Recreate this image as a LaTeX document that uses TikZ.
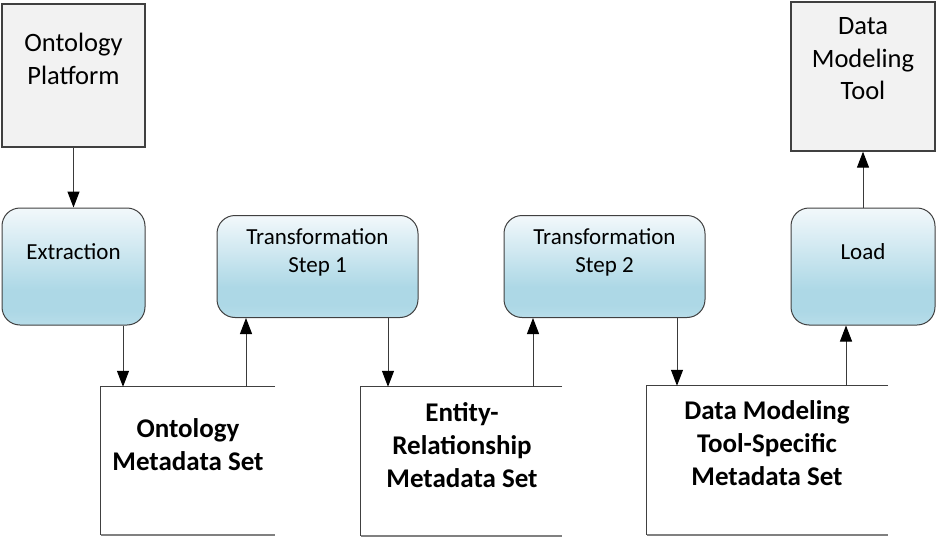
\documentclass[tikz,border=0pt]{standalone}
\usepackage{fontspec}
\setmainfont{Carlito}
\usetikzlibrary{arrows.meta}
\definecolor{boxgray}{HTML}{F2F2F2}
\definecolor{edge}{HTML}{404040}
\definecolor{connc}{HTML}{3A3A3A}
\definecolor{shT}{HTML}{F2F8FB}
\definecolor{shM}{HTML}{ADD8E6}
\definecolor{shB}{HTML}{B8DDE9}
\pgfdeclareverticalshading{procshade}{100bp}{color(0bp)=(shB); color(25bp)=(shB); color(31bp)=(shM); color(40bp)=(shM); color(75bp)=(shT); color(100bp)=(shT)}
\tikzset{
  plainbox/.style={draw=edge, line width=1.3pt, fill=boxgray, inner sep=0pt},
  procbox/.style={draw=edge, line width=1pt, rounded corners=18pt, shading=procshade, inner sep=0pt},
  docshape/.style={inner sep=0pt},
  docline/.style={draw=edge, line width=1pt},
  docbottom/.style={draw=gray, line width=2pt},
  conn/.style={draw=connc, line width=1pt, -{Triangle[width=12pt,length=16pt,color=black]}},
  biglbl/.style={align=center, inner sep=0pt, font=\fontsize{26.5}{32.5}\selectfont},
  proclbl/.style={align=center, inner sep=0pt, font=\fontsize{23}{28.5}\selectfont},
  doclbl/.style={align=center, inner sep=0pt, font=\bfseries\fontsize{27}{33}\selectfont}
}
\begin{document}
\begin{tikzpicture}[x=1pt,y=-1pt]
\useasboundingbox (0,0) rectangle (938,538);
% boxes
\node[plainbox, minimum width=143pt, minimum height=143pt] (op) at (73.5,75.5) {};
\node[biglbl] (opt) at (73.5,59) {Ontology\\Platform};
\node[plainbox, minimum width=144pt, minimum height=149pt] (dmt) at (863,76.5) {};
\node[biglbl] (dmtt) at (863,59) {Data\\Modeling\\Tool};
\node[procbox, minimum width=143pt, minimum height=117pt] (ext) at (73.5,266.5) {};
\node[proclbl] (extt) at (73.5,252) {Extraction};
\node[procbox, minimum width=201pt, minimum height=102pt] (tr1) at (317.5,266.5) {};
\node[proclbl] (tr1t) at (317.5,252.5) {Transformation\\Step 1};
\node[procbox, minimum width=201pt, minimum height=102pt] (tr2) at (604.5,266.5) {};
\node[proclbl] (tr2t) at (604.5,252.5) {Transformation\\Step 2};
\node[procbox, minimum width=144pt, minimum height=117pt] (load) at (863,266.5) {};
\node[proclbl] (loadt) at (863,252) {Load};
% documents
\node[docshape, minimum width=174pt, minimum height=148pt] (doc1) at (188,461) {};
\node[docshape, minimum width=201pt, minimum height=149pt] (doc2) at (461.5,461.5) {};
\node[docshape, minimum width=241pt, minimum height=149pt] (doc3) at (767.5,460.5) {};
\foreach \d in {doc1,doc2,doc3}{
  \draw[docline] (\d.north east) -- (\d.north west) -- (\d.south west);
  \draw[docbottom] (\d.south west) -- (\d.south east);
}
\node[doclbl] (doc1t) at (188,444.5) {Ontology\\Metadata Set};
\node[doclbl] (doc2t) at (462,445.5) {Entity-\\Relationship\\Metadata Set};
\node[doclbl] (doc3t) at (767,443.5) {Data Modeling\\Tool-Specific\\Metadata Set};
% connectors
\draw[conn] (op.south) -- (ext.north);
\draw[conn] ([xshift=49.5pt]ext.south) -- ([xshift=49.5pt]ext.south |- doc1.north);
\draw[conn] ([xshift=-71.5pt]tr1.south |- doc1.north) -- ([xshift=-71.5pt]tr1.south);
\draw[conn] ([xshift=70.5pt]tr1.south) -- ([xshift=70.5pt]tr1.south |- doc2.north);
\draw[conn] ([xshift=-71.5pt]tr2.south |- doc2.north) -- ([xshift=-71.5pt]tr2.south);
\draw[conn] ([xshift=72.5pt]tr2.south) -- ([xshift=72.5pt]tr2.south |- doc3.north);
\draw[conn] ([xshift=-17pt]load.south |- doc3.north) -- ([xshift=-17pt]load.south);
\draw[conn] (load.north) -- (dmt.south);
\end{tikzpicture}
\end{document}
